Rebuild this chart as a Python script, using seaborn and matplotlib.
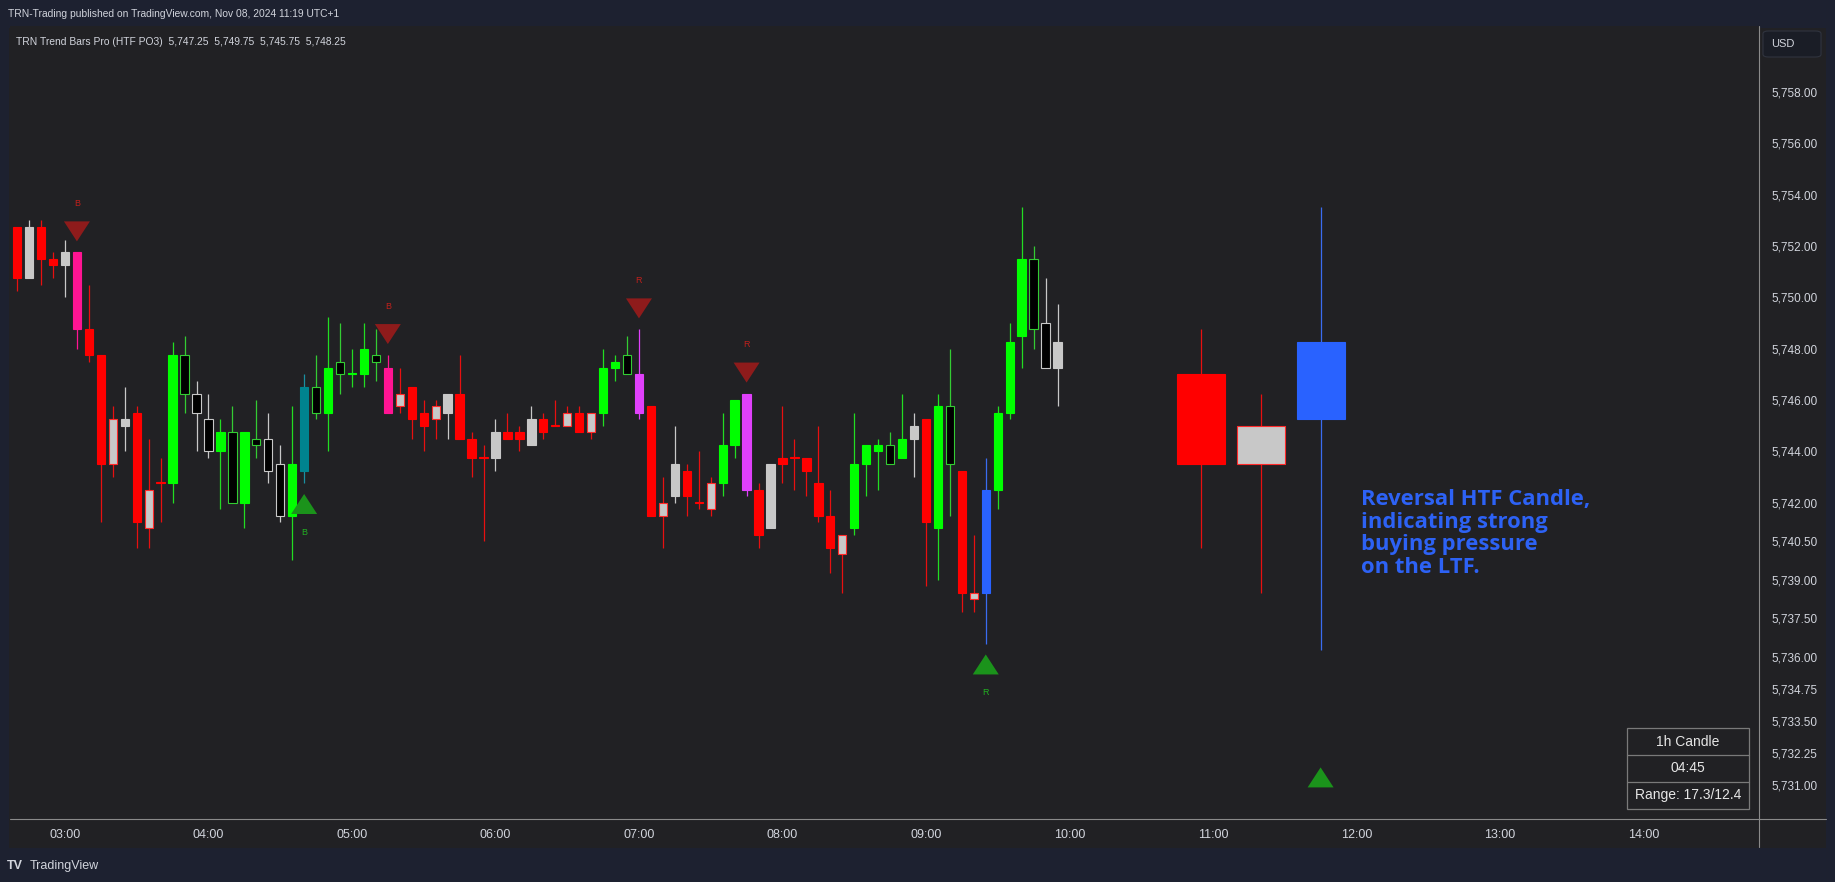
import numpy as np
import pandas as pd
import seaborn as sns
from matplotlib import pyplot as plt
from matplotlib.lines import Line2D
from matplotlib.patches import Rectangle, FancyBboxPatch

W, H = 1835, 882

# 5 minute bars starting at 02:40
opens = [5752.75, 5750.75, 5752.75, 5751.5, 5751.25, 5751.75, 5748.75, 5747.75, 5743.5, 5745.0,
         5745.5, 5741.0, 5742.75, 5742.75, 5747.75, 5746.25, 5745.25, 5744.0, 5744.75, 5742.0,
         5744.5, 5744.5, 5743.5, 5741.5, 5743.25, 5746.5, 5745.5, 5747.5, 5747.0, 5747.0,
         5747.75, 5747.25, 5745.75, 5746.5, 5745.5, 5745.25, 5745.5, 5746.25, 5744.5, 5743.75,
         5743.75, 5744.75, 5744.75, 5744.25, 5745.25, 5745.0, 5745.0, 5745.5, 5744.75, 5745.5,
         5747.25, 5747.75, 5747.0, 5745.75, 5741.5, 5742.25, 5743.25, 5742.0, 5741.75, 5742.75,
         5744.25, 5746.25, 5742.5, 5741.0, 5743.75, 5743.75, 5743.75, 5742.75, 5741.5, 5740.0,
         5741.0, 5743.5, 5744.0, 5744.25, 5743.75, 5744.5, 5745.25, 5741.0, 5745.75, 5743.25,
         5738.25, 5738.5, 5742.5, 5745.5, 5748.5, 5751.5, 5749.0, 5747.25]
highs = [5752.75, 5753.0, 5753.0, 5751.75, 5752.25, 5751.75, 5750.5, 5747.75, 5745.75, 5746.5,
         5745.75, 5744.5, 5743.75, 5748.25, 5748.5, 5746.75, 5746.25, 5745.25, 5745.75, 5744.75,
         5746.0, 5745.5, 5744.25, 5745.75, 5747.0, 5747.75, 5749.25, 5749.0, 5748.0, 5749.0,
         5748.75, 5747.75, 5747.25, 5746.5, 5746.0, 5746.0, 5746.25, 5747.75, 5744.75, 5744.25,
         5745.25, 5745.5, 5745.0, 5745.75, 5745.5, 5746.0, 5745.75, 5745.75, 5745.5, 5748.0,
         5747.75, 5748.5, 5748.75, 5745.75, 5743.0, 5745.0, 5743.5, 5744.0, 5743.0, 5745.5,
         5746.0, 5746.25, 5742.75, 5743.5, 5745.75, 5744.5, 5743.75, 5745.0, 5742.5, 5740.75,
         5745.5, 5744.25, 5744.5, 5744.75, 5746.25, 5745.5, 5745.25, 5746.25, 5748.0, 5743.25,
         5740.75, 5743.75, 5745.75, 5749.0, 5753.5, 5752.0, 5750.75, 5749.75]
lows = [5750.25, 5750.75, 5750.5, 5750.75, 5750.0, 5748.0, 5747.5, 5741.25, 5743.0, 5744.0,
        5740.25, 5740.25, 5741.25, 5742.0, 5745.5, 5744.0, 5743.75, 5741.75, 5742.0, 5741.0,
        5743.75, 5742.75, 5741.25, 5739.75, 5742.75, 5745.25, 5744.0, 5746.25, 5746.5, 5746.5,
        5746.75, 5745.5, 5745.5, 5744.5, 5744.0, 5744.5, 5744.5, 5744.5, 5743.0, 5740.5,
        5743.25, 5744.5, 5744.0, 5744.25, 5744.5, 5745.0, 5745.0, 5744.75, 5744.5, 5745.0,
        5746.75, 5747.0, 5745.25, 5741.5, 5740.25, 5742.0, 5741.5, 5741.75, 5741.5, 5742.25,
        5743.75, 5742.25, 5740.25, 5741.0, 5742.75, 5742.5, 5742.25, 5741.25, 5739.25, 5738.5,
        5740.75, 5742.25, 5742.5, 5743.5, 5743.75, 5743.0, 5738.75, 5739.0, 5741.5, 5737.75,
        5737.75, 5736.5, 5741.75, 5745.25, 5747.25, 5748.0, 5747.25, 5745.75]
closes = [5750.75, 5752.75, 5751.5, 5751.25, 5751.75, 5748.75, 5747.75, 5743.5, 5745.25, 5745.25,
          5741.25, 5742.5, 5742.75, 5747.75, 5746.25, 5745.5, 5744.0, 5744.75, 5742.0, 5744.75,
          5744.25, 5743.25, 5741.5, 5743.5, 5746.5, 5745.5, 5747.25, 5747.0, 5747.0, 5748.0,
          5747.5, 5745.5, 5746.25, 5745.25, 5745.0, 5745.75, 5746.25, 5744.5, 5743.75, 5743.75,
          5744.75, 5744.5, 5744.5, 5745.25, 5744.75, 5745.0, 5745.5, 5744.75, 5745.5, 5747.25,
          5747.5, 5747.0, 5745.5, 5741.5, 5742.0, 5743.5, 5742.25, 5742.0, 5742.75, 5744.25,
          5746.0, 5742.5, 5740.75, 5743.5, 5743.5, 5743.75, 5743.25, 5741.5, 5740.25, 5740.75,
          5743.5, 5744.25, 5744.25, 5743.5, 5744.5, 5745.0, 5741.25, 5745.75, 5743.5, 5738.5,
          5738.5, 5742.5, 5745.5, 5748.25, 5751.5, 5748.75, 5747.25, 5748.25]
styles = ['r', 'w', 'r', 'r', 'w', 'p', 'r', 'r', 'wr', 'w',
          'r', 'wr', 'r', 'g', 'kg', 'kw', 'kw', 'g', 'kg', 'g',
          'kg', 'kw', 'kw', 'g', 't', 'kg', 'g', 'kg', 'g', 'g',
          'kg', 'p', 'wr', 'r', 'r', 'wr', 'w', 'r', 'r', 'r',
          'w', 'r', 'r', 'w', 'r', 'r', 'wr', 'r', 'wr', 'g',
          'g', 'kg', 'm', 'r', 'wr', 'w', 'r', 'r', 'wr', 'g',
          'g', 'm', 'r', 'w', 'r', 'r', 'r', 'r', 'r', 'wr',
          'g', 'g', 'g', 'kg', 'g', 'w', 'r', 'g', 'kg', 'r',
          'wr', 'b', 'g', 'g', 'g', 'kg', 'kw', 'w']

# higher timeframe (PO3) candles projected to the right
htf_times = ['10:55', '11:20', '11:45']
htf_opens = [5747.0, 5743.5, 5745.25]
htf_highs = [5748.75, 5746.25, 5753.5]
htf_lows = [5740.25, 5738.5, 5736.25]
htf_closes = [5743.5, 5745.0, 5748.25]
htf_styles = ['r', 'wr', 'b']
htf_signal_price = 5731.3

# signal markers (bar index, direction, label)
signal_bars = [5, 24, 31, 52, 61, 81]
signal_dirs = ['down', 'up', 'down', 'down', 'down', 'up']
signal_labels = ['B', 'B', 'B', 'R', 'R', 'R']

price_ticks = [5758, 5756, 5754, 5752, 5750, 5748, 5746, 5744, 5742, 5740.5,
               5739, 5737.5, 5736, 5734.75, 5733.5, 5732.25, 5731]
hour_ticks = list(range(3, 15))

# face, edge, wick
palette = {
    'r': ('#ff0000', '#ff0000', '#e81010'),
    'g': ('#00ff00', '#00ff00', '#22dd22'),
    'w': ('#c8c8c8', '#c8c8c8', '#c8c8c8'),
    'wr': ('#c8c8c8', '#ff2a2a', '#e81010'),
    'kg': ('#000000', '#33cc33', '#33cc33'),
    'kw': ('#000000', '#c8c8c8', '#c8c8c8'),
    'p': ('#ff1493', '#ff1493', '#ff1493'),
    'm': ('#e040fb', '#e040fb', '#e040fb'),
    't': ('#00838f', '#00838f', '#1a8fa0'),
    'b': ('#2962ff', '#2962ff', '#3a6cf0'),
}

NAVY = '#1d2130'
PANEL = '#212124'
TXT = '#d1d4dc'

df = pd.DataFrame({'open': opens, 'high': highs, 'low': lows, 'close': closes, 'style': styles})
df['t'] = 2 + 40 / 60 + np.arange(len(df)) * 5 / 60

htf = pd.DataFrame({'open': htf_opens, 'high': htf_highs, 'low': htf_lows,
                    'close': htf_closes, 'style': htf_styles})
htf['t'] = [int(s[:2]) + int(s[3:]) / 60 for s in htf_times]

sns.set_theme(style='dark')
plt.rcParams['font.family'] = ['Liberation Sans', 'DejaVu Sans']


def fx(x):
    return x / W


def fy(y):
    return 1 - y / H


def draw_candles(ax, d, width):
    for _, r in d.iterrows():
        face, edge, wick = palette[r['style']]
        ax.vlines(r['t'], r['low'], r['high'], color=wick, lw=0.9, zorder=2)
        lo = min(r['open'], r['close'])
        hi = max(r['open'], r['close'])
        ax.bar(r['t'], max(hi - lo, 0.04), width=width, bottom=lo, color=face,
               edgecolor=edge, linewidth=0.8, zorder=3)


fig = plt.figure(figsize=(W / 100, H / 100), dpi=100, facecolor=NAVY)
fig.add_artist(Rectangle((fx(9), fy(848)), fx(1826 - 9), 820 / H, transform=fig.transFigure,
                         facecolor=PANEL, edgecolor='none', zorder=-5))

ax = fig.add_axes([fx(10), fy(819), fx(1759 - 10), (819 - 26) / H])
ax.set_facecolor(PANEL)
ax.grid(False)
for s in ax.spines.values():
    s.set_visible(False)

draw_candles(ax, df, 0.058)
draw_candles(ax, htf, 0.335)

# signal triangles
sig = df.iloc[signal_bars].copy()
sig['dir'] = signal_dirs
sig['lab'] = signal_labels
dn = sig[sig['dir'] == 'down']
up = sig[sig['dir'] == 'up']
tri_dn = [(-1.3, 1), (1.3, 1), (0, -1)]
tri_up = [(-1.3, -1), (1.3, -1), (0, 1)]
sns.scatterplot(x=dn['t'], y=dn['high'] + 0.82, marker=tri_dn, s=350, color='#8e1b1b',
                edgecolor='none', ax=ax, zorder=4, legend=False)
sns.scatterplot(x=list(up['t']) + [htf['t'].iloc[2]],
                y=list(up['low'] - 0.8) + [htf_signal_price],
                marker=tri_up, s=350, color='#1b931b', edgecolor='none', ax=ax, zorder=4, legend=False)
for _, r in dn.iterrows():
    ax.text(r['t'], r['high'] + 1.9, r['lab'], color='#c0201c', fontsize=6.5,
            ha='center', va='center')
for _, r in up.iterrows():
    ax.text(r['t'], r['low'] - 1.9, r['lab'], color='#22b022', fontsize=6.5,
            ha='center', va='center')

ax.text(12.03, 5742.55, 'Reversal HTF Candle,\nindicating strong\nbuying pressure\non the LTF.',
        color='#2d62f5', fontsize=15.8, fontfamily='Open Sans', fontweight='bold',
        ha='left', va='top', linespacing=1.12)

ax.set_xlim(2.617, 14.805)
ax.set_ylim(5729.68, 5760.57)
ax.yaxis.tick_right()
ax.set_yticks(price_ticks)
ax.set_yticklabels([f'{v:,.2f}' for v in price_ticks])
ax.set_xticks(hour_ticks)
ax.set_xticklabels([f'{h:02d}:00' for h in hour_ticks])
ax.tick_params(axis='y', length=0, pad=9, labelsize=8.5, labelcolor=TXT)
ax.tick_params(axis='x', length=0, pad=7, labelsize=9, labelcolor=TXT)
ax.set_xlabel('')
ax.set_ylabel('')

# axis separators
fig.add_artist(Line2D([fx(10), fx(1826)], [fy(819), fy(819)], color='#8a8a8a', lw=0.8))
fig.add_artist(Line2D([fx(1759), fx(1759)], [fy(26), fy(847)], color='#8a8a8a', lw=0.8))

# USD box
fig.add_artist(FancyBboxPatch((fx(1763), fy(57)), fx(58), 26 / H,
                              boxstyle='round,pad=0,rounding_size=0.003',
                              transform=fig.transFigure, facecolor='#1a1d26',
                              edgecolor='#30343f', lw=0.8))
fig.text(fx(1771), fy(44), 'USD', color=TXT, fontsize=8, va='center', ha='left')

# header texts
fig.text(fx(8), fy(14), 'TRN-Trading published on TradingView.com, Nov 08, 2024 11:19 UTC+1',
         color=TXT, fontsize=7.4, va='center')
fig.text(fx(16), fy(42), 'TRN Trend Bars Pro (HTF PO3)  5,747.25  5,749.75  5,745.75  5,748.25',
         color=TXT, fontsize=7.4, va='center')
fig.text(fx(7), fy(866), 'TV', color=TXT, fontsize=9, fontweight='bold', va='center')
fig.text(fx(30), fy(866), 'TradingView', color=TXT, fontsize=9, va='center')

# 1h candle info table
tx0, tx1 = 1627, 1749
rows = [728, 755, 782, 809]
fig.add_artist(Rectangle((fx(tx0), fy(rows[-1])), fx(tx1 - tx0), (rows[-1] - rows[0]) / H,
                         transform=fig.transFigure, facecolor=PANEL, edgecolor='#7a7a7a', lw=0.9))
for yy in rows[1:-1]:
    fig.add_artist(Line2D([fx(tx0), fx(tx1)], [fy(yy), fy(yy)], color='#7a7a7a', lw=0.9))
for txt, a, b in zip(['1h Candle', '04:45', 'Range: 17.3/12.4'], rows[:-1], rows[1:]):
    fig.text(fx((tx0 + tx1) / 2), fy((a + b) / 2), txt, color='#e6e6e6', fontsize=10,
             ha='center', va='center')

fig.savefig('out.png', dpi=100, facecolor=NAVY)
